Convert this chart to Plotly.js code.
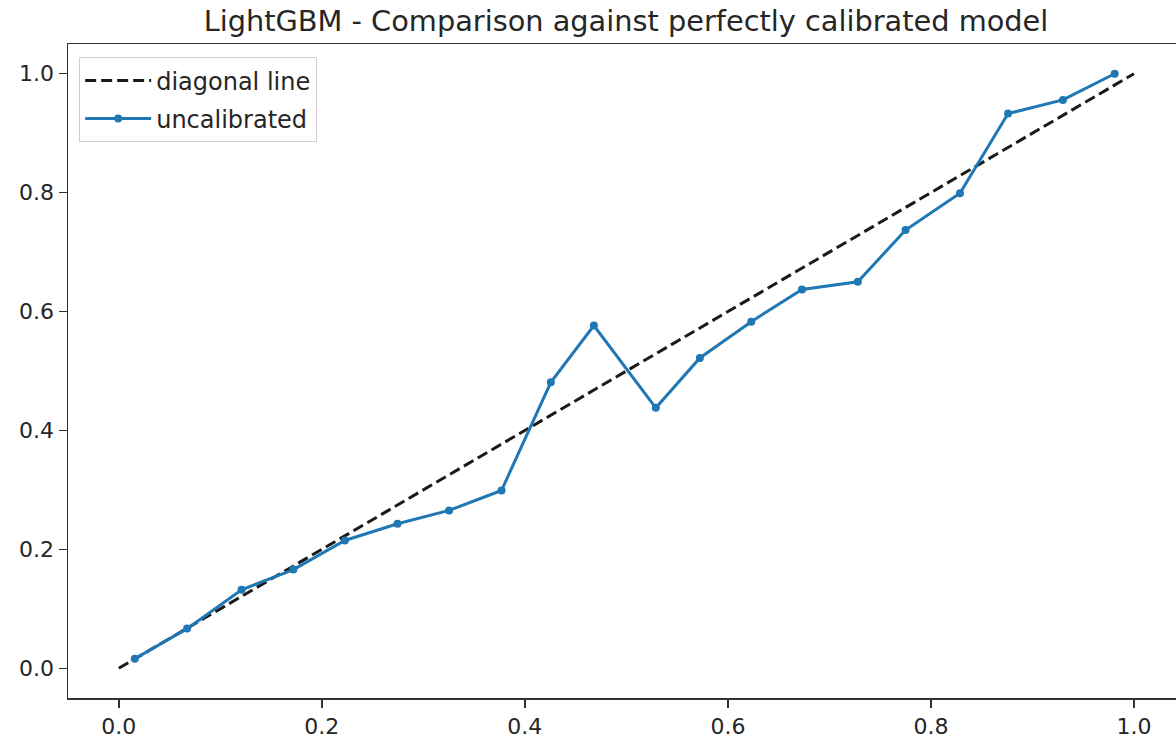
<!DOCTYPE html>
<html>
<head>
<meta charset="utf-8">
<script src="https://cdn.plot.ly/plotly-3.0.1.min.js"></script>
<style>html,body{margin:0;padding:0;background:#fff;}#chart{width:1176px;height:738px;}</style>
</head>
<body>
<div id="chart"></div>
<script>
const diagX = [0, 1];
const diagY = [0, 1];
const probPred = [0.0158, 0.0673, 0.121, 0.172, 0.2227, 0.2746, 0.3254, 0.377, 0.4256, 0.468, 0.529, 0.5724, 0.623, 0.673, 0.728, 0.775, 0.8286, 0.876, 0.930, 0.981];
const probTrue = [0.016, 0.0667, 0.132, 0.166, 0.215, 0.243, 0.2655, 0.299, 0.481, 0.5765, 0.438, 0.522, 0.583, 0.637, 0.650, 0.737, 0.799, 0.933, 0.956, 1.0];
const tickVals = [0, 0.2, 0.4, 0.6, 0.8, 1.0];
const tickText = ["0.0", "0.2", "0.4", "0.6", "0.8", "1.0"];

const font = "DejaVu Sans, sans-serif";
const traces = [
  {x: diagX, y: diagY, mode: "lines", name: "diagonal line", legendgroup: "a",
   line: {color: "#1a1a1a", width: 3, dash: "11px,5px"}},
  {x: probPred, y: probTrue, mode: "lines+markers", name: "uncalibrated", legendgroup: "b",
   line: {color: "#1f77b4", width: 3}, marker: {color: "#1f77b4", size: 8}}
];
const axisCommon = {
  showgrid: false, zeroline: false, showline: true, linecolor: "#333", linewidth: 1.5,
  ticks: "outside", ticklen: 8, tickwidth: 1.5, tickcolor: "#333",
  tickvals: tickVals, ticktext: tickText,
  tickfont: {family: font, size: 22, color: "#262626"}
};
const layout = {
  width: 1176, height: 738,
  margin: {l: 68, r: 0, t: 44, b: 40},
  paper_bgcolor: "#fff", plot_bgcolor: "#fff",
  title: {text: "LightGBM - Comparison against perfectly calibrated model",
          font: {family: font, size: 28.8, color: "#262626"},
          xref: "paper", x: 0.5036, xanchor: "center",
          yref: "container", y: 1 - 21/738, yanchor: "middle"},
  xaxis: Object.assign({}, axisCommon, {range: [-0.05, 1.0414], mirror: true}),
  yaxis: Object.assign({}, axisCommon, {range: [-0.05, 1.05], mirror: false}),
  showlegend: true,
  legend: {x: 0.0099, y: 0.98, xanchor: "left", yanchor: "top",
           traceorder: "grouped", tracegroupgap: 4, itemwidth: 66,
           bgcolor: "rgba(255,255,255,0.8)", bordercolor: "#d0d0d0", borderwidth: 1.2,
           font: {family: font, size: 24, color: "#262626"}}
};
Plotly.newPlot("chart", traces, layout, {displayModeBar: false, staticPlot: true});
</script>
</body>
</html>
